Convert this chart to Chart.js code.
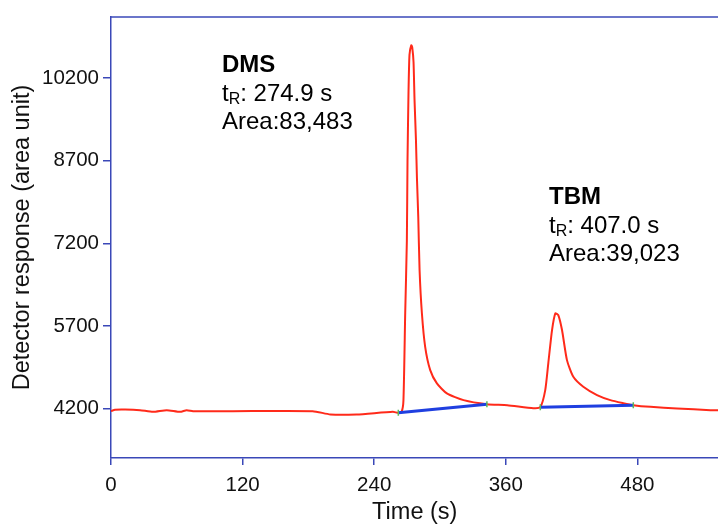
<!DOCTYPE html>
<html>
<head>
<meta charset="utf-8">
<script src="https://cdn.jsdelivr.net/npm/chart.js@4"></script>
<style>
html,body{margin:0;padding:0;background:#fff;overflow:hidden;}
#wrap{width:718px;height:527px;position:relative;overflow:hidden;}
</style>
</head>
<body>
<div id="wrap"><canvas id="c" width="724" height="527"></canvas></div>
<script>
// Chromatogram trace (time in s, detector response)
const times = [0,3.7,12.8,26.5,38.3,50.8,63,69,74.8,111,184,200,224,257,262,
  265,266.7,268.3,269.8,270.4,271.3,272.2,273.8,274.7,275.9,276.8,278.1,279,280.2,281.4,283.5,286.5,291.1,297.2,306.3,321.5,342.8,361.4,385.1,391.5,
  396,398.8,402.2,405.2,407.9,411.3,415.8,421.6,430.7,443.2,455.4,467.2,476.3,491.9,516.2,546.6,554];
const response = [4151,4178,4182,4169,4138,4169,4138,4169,4151,4151,4151,4091,4091,4138,4120,
  4138,4351,5933,7242,8714,9932,10623,10796,10760,10487,9805,9078,8387,7678,6714,5933,5320,4896,4655,4473,4351,4278,4260,4205,4225,
  4533,5024,5624,5927,5896,5624,5078,4774,4593,4442,4351,4296,4260,4229,4200,4169,4169];
// Integration baselines
const dmsBaseT = [262, 342.8];
const dmsBaseY = [4122, 4278];
const tbmBaseT = [391.5, 476.3];
const tbmBaseY = [4220, 4260];
// Axis ticks
const xTicks = [0,120,240,360,480];
const yTicks = [4200,5700,7200,8700,10200];
const xRange = [0, 554];
const yRange = [3300, 11310];
// Peak annotations
const peaks = [
  {name:'DMS', tr:'274.9 s', area:'83,483'},
  {name:'TBM', tr:'407.0 s', area:'39,023'}
];

const AX = '#3a48b8';
const FONT = 'Liberation Sans, Arial, Helvetica, sans-serif';

const toPts = (xs, ys) => xs.map((x,i)=>({x:x, y:ys[i]}));

const annotPlugin = {
  id:'annot',
  afterDraw(chart){
    const ctx = chart.ctx;
    const ca = chart.chartArea;
    ctx.save();
    // top border
    ctx.strokeStyle = AX; ctx.lineWidth = 1.5;
    ctx.beginPath(); ctx.moveTo(ca.left, ca.top); ctx.lineTo(ca.right, ca.top); ctx.stroke();
    // annotations
    const pos = [{x:222, y:72}, {x:549, y:204}];
    ctx.fillStyle = '#000';
    ctx.textBaseline = 'alphabetic';
    ctx.textAlign = 'left';
    peaks.forEach((p,i)=>{
      const x = pos[i].x, y = pos[i].y;
      ctx.font = 'bold 24px ' + FONT;
      ctx.fillText(p.name, x, y);
      ctx.font = '24px ' + FONT;
      ctx.fillText('t', x, y+28.5);
      let w = ctx.measureText('t').width;
      ctx.font = '16px ' + FONT;
      ctx.fillText('R', x+w, y+32);
      w += ctx.measureText('R').width;
      ctx.font = '24px ' + FONT;
      ctx.fillText(': ' + p.tr, x+w, y+28.5);
      ctx.fillText('Area:' + p.area, x, y+56.5);
    });
    ctx.restore();
  }
};

new Chart(document.getElementById('c'), {
  type:'scatter',
  data:{
    datasets:[
      {data: toPts(dmsBaseT, dmsBaseY), showLine:true, borderColor:'#1f3fe0', borderWidth:3, pointRadius:0, order:1},
      {data: toPts(tbmBaseT, tbmBaseY), showLine:true, borderColor:'#1f3fe0', borderWidth:3, pointRadius:0, order:1},
      {data: toPts(times, response), showLine:true, borderColor:'#ff2a1a', borderWidth:2, pointRadius:0, tension:0.2, order:2},
      {data: toPts(dmsBaseT.concat(tbmBaseT), dmsBaseY.concat(tbmBaseY)), showLine:false, pointStyle:'line', rotation:90,
       pointRadius:3, borderColor:'#5cb85c', borderWidth:1.5, order:0}
    ]
  },
  options:{
    responsive:false, animation:false,
    layout:{padding:{top:17, right:0, left:0, bottom:0}},
    plugins:{legend:{display:false}, tooltip:{enabled:false}},
    scales:{
      x:{
        type:'linear', min:xRange[0], max:xRange[1],
        afterBuildTicks(s){ s.ticks = xTicks.map(v=>({value:v})); },
        afterFit(s){ s.height = 69; },
        grid:{display:true, drawOnChartArea:false, drawTicks:true, tickLength:7, color:AX, lineWidth:1.5},
        border:{display:true, color:AX, width:1.5},
        ticks:{color:'#111', font:{family:FONT, size:20.5}, padding:8, maxRotation:0, autoSkip:false},
        title:{display:true, text:'Time (s)', color:'#111', font:{family:FONT, size:23.5}, padding:{top:0, bottom:0}}
      },
      y:{
        type:'linear', min:yRange[0], max:yRange[1],
        afterBuildTicks(s){ s.ticks = yTicks.map(v=>({value:v})); },
        afterFit(s){ s.width = 111; },
        grid:{display:true, drawOnChartArea:false, drawTicks:true, tickLength:8, color:AX, lineWidth:1.5},
        border:{display:true, color:AX, width:1.5},
        ticks:{color:'#111', font:{family:FONT, size:20.5}, padding:4, autoSkip:false, callback:v=>String(v)},
        title:{display:true, text:'Detector response (area unit)', color:'#111', font:{family:FONT, size:23.5}, padding:{top:8, bottom:0}}
      }
    }
  },
  plugins:[annotPlugin]
});
</script>
</body>
</html>
